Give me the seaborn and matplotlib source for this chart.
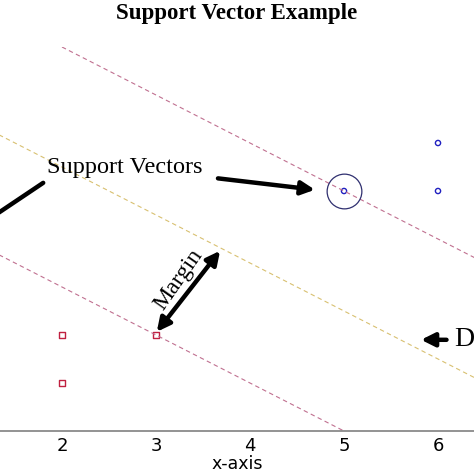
import matplotlib
matplotlib.use("Agg")
import matplotlib.pyplot as plt
import seaborn as sns
import pandas as pd

sns.set_style("white")

blue_x = [5, 6, 6]
blue_y = [5, 6, 5]
red_x = [2, 3, 2]
red_y = [2, 2, 1]
# lines x + y = c
line_c = [10, 7.5, 5]
line_start = [2.0, 1.0, 1.0]
line_end = 7.0
line_colors = ["#c07090", "#d8c070", "#c07090"]
xticks = [2, 3, 4, 5, 6]

fig = plt.figure(figsize=(4.74, 4.74), dpi=100)
ax = fig.add_axes([0, 1 - 431/474, 1, 384/474])

for c, x0, col in zip(line_c, line_start, line_colors):
    lx = [x0, line_end]
    df = pd.DataFrame({"x": lx, "y": [c - v for v in lx]})
    sns.lineplot(data=df, x="x", y="y", ax=ax, color=col, lw=0.8,
                 linestyle=(0, (4, 3)), legend=False)

sns.scatterplot(x=blue_x, y=blue_y, ax=ax, marker="o", s=14,
                facecolors="none", edgecolor="#2020c0", linewidth=1.0)
sns.scatterplot(x=red_x, y=red_y, ax=ax, marker="s", s=14,
                facecolors="none", edgecolor="#c02040", linewidth=1.0)

ax.plot([5], [5], marker="o", ms=25, mfc="none", mec="#303070", mew=0.9)

ser = "Liberation Serif"
ax.text(2.67, 5.48, "Support Vectors", family=ser, fontsize=17.5,
        ha="center", va="center", color="black")
ap = dict(arrowstyle="-|>,head_length=0.8,head_width=0.4", lw=3.2, color="black")
ax.annotate("", xy=(4.72, 5.02), xytext=(3.63, 5.27), arrowprops=ap)
ax.plot([1.80, 1.29], [5.17, 4.5], color="black", lw=3.2, clip_on=False)
ap2 = dict(arrowstyle="<|-|>,head_length=0.8,head_width=0.4", lw=3.2, color="black")
ax.annotate("", xy=(3.70, 3.80), xytext=(2.99, 2.02), arrowprops=ap2)
ax.text(3.24, 3.15, "Margin", family=ser, fontsize=17, rotation=55,
        ha="center", va="center", color="black")
ax.annotate("", xy=(5.79, 1.9), xytext=(6.12, 1.9), arrowprops=ap)
ax.text(6.17, 1.9, "D", family=ser, fontsize=20, ha="left", va="center",
        color="black")

ax.set_xlim(2 - 62/94, 2 + 412/94)
ax.set_ylim(0, 8)
ax.set_xticks(xticks)
ax.set_yticks([])
ax.tick_params(axis="x", direction="in", length=4, labelsize=13, pad=4,
               color="#808080", labelcolor="black")
ax.set_xlabel("x-axis", fontsize=12.5, labelpad=0, color="black")
ax.set_ylabel("")
for s in ["top", "left", "right"]:
    ax.spines[s].set_visible(False)
ax.spines["bottom"].set_color("#808080")
ax.spines["bottom"].set_linewidth(1.2)
fig.text(0.5, 1 - 14/474, "Support Vector Example", family=ser, weight="bold",
         fontsize=16.5, ha="center", va="center", color="black")
fig.savefig("out.png", dpi=100)
